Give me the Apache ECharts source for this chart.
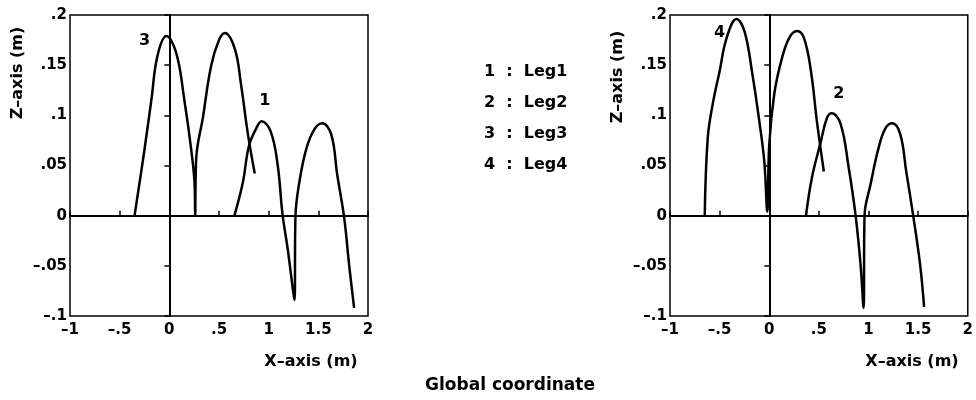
<!DOCTYPE html>
<html>
<head>
<meta charset="utf-8">
<script src="https://cdn.jsdelivr.net/npm/echarts@6/dist/echarts.min.js"></script>
<style>
  html, body { margin: 0; padding: 0; background: #fff; }
  #main { width: 976px; height: 400px; }
</style>
</head>
<body>
<div id="main"></div>
<script>
// tick labels as printed on the figure
var xTickLabels = ['–1', '–.5', '0', '.5', '1', '1.5', '2'];
var zTickLabels = ['–.1', '–.05', '0', '.05', '.1', '.15', '.2'];

// foot trajectories [x, z] in metres
var leg1 = [
  [0.655, 0], [0.74, 0.033], [0.80, 0.069], [0.87, 0.086], [0.93, 0.094],
  [1.02, 0.084], [1.09, 0.051], [1.14, 0.001], [1.19, -0.032], [1.26, -0.084],
  [1.27, 0], [1.31, 0.034], [1.38, 0.067], [1.46, 0.086], [1.54, 0.092],
  [1.63, 0.081], [1.69, 0.041], [1.76, -0.002], [1.81, -0.049], [1.86, -0.092]
];
var leg2 = [
  [0.37, 0], [0.43, 0.038], [0.52, 0.074], [0.58, 0.097], [0.63, 0.102],
  [0.72, 0.091], [0.80, 0.048], [0.87, 0], [0.92, -0.049], [0.95, -0.092],
  [0.96, 0], [1.02, 0.031], [1.10, 0.067], [1.17, 0.087], [1.24, 0.092],
  [1.32, 0.081], [1.38, 0.044], [1.45, 0], [1.52, -0.049], [1.56, -0.091]
];
var leg3 = [
  [-0.35, 0], [-0.25, 0.066], [-0.18, 0.116], [-0.12, 0.159], [-0.03, 0.179],
  [0.07, 0.162], [0.15, 0.116], [0.22, 0.066], [0.255, 0.03], [0.26, 0],
  [0.27, 0.056], [0.34, 0.099], [0.42, 0.149], [0.50, 0.175], [0.56, 0.182],
  [0.66, 0.166], [0.72, 0.132], [0.79, 0.082], [0.86, 0.042]
];
var leg4 = [
  [-0.65, 0], [-0.62, 0.077], [-0.57, 0.111], [-0.5, 0.144], [-0.43, 0.177],
  [-0.33, 0.196], [-0.25, 0.184], [-0.17, 0.141], [-0.10, 0.094], [-0.05, 0.054], [-0.02, 0.004],
  [0.0, 0.071], [0.05, 0.121], [0.12, 0.154], [0.20, 0.177], [0.28, 0.184],
  [0.35, 0.177], [0.42, 0.144], [0.48, 0.094], [0.55, 0.044]
];
var legNames = ['Leg1', 'Leg2', 'Leg3', 'Leg4'];
// where the curve numbers are written, [x, z]
var tagPos = { Leg1: [0.96, 0.114], Leg2: [0.70, 0.121], Leg3: [-0.25, 0.174], Leg4: [-0.5, 0.182] };

var font = 'DejaVu Sans';
var black = '#000';

function xAxisOf(idx) {
  return {
    gridIndex: idx, type: 'value', min: -1, max: 2, interval: 0.5,
    axisLine: { show: true, lineStyle: { color: black, width: 2 } },
    axisTick: { show: true, inside: true, length: 5, lineStyle: { color: black, width: 1.5 } },
    axisLabel: { color: black, fontFamily: font, fontWeight: 'bold', fontSize: 15, margin: 7,
      formatter: function (v, i) { return xTickLabels[i]; } },
    splitLine: { show: false }
  };
}
function yAxisOf(idx) {
  return {
    gridIndex: idx, type: 'value', min: -0.1, max: 0.2, interval: 0.05,
    axisLine: { show: true, lineStyle: { color: black, width: 2 } },
    axisTick: { show: true, length: 5, lineStyle: { color: black, width: 1.5 } },
    axisLabel: { color: black, fontFamily: font, fontWeight: 'bold', fontSize: 15, margin: 3,
      formatter: function (v, i) { return zTickLabels[i]; } },
    splitLine: { show: false }
  };
}
function legSeries(name, data, idx, withZeroLines) {
  var s = {
    name: name, type: 'line', xAxisIndex: idx, yAxisIndex: idx,
    data: data, smooth: 0.4, showSymbol: false, symbol: 'none',
    lineStyle: { color: black, width: 2.5 }, itemStyle: { color: black },
    markPoint: {
      symbol: 'circle', symbolSize: 0, silent: true,
      label: { show: true, formatter: name.slice(3), color: black, fontFamily: font,
        fontWeight: 'bold', fontSize: 16 },
      data: [{ coord: tagPos[name] }]
    }
  };
  if (withZeroLines) {
    s.markLine = {
      silent: true, symbol: ['none', 'none'], label: { show: false },
      lineStyle: { color: black, width: 1.5, type: 'solid' },
      data: [{ xAxis: 0 }, { yAxis: 0 }]
    };
  }
  return s;
}

var chart = echarts.init(document.getElementById('main'));
chart.setOption({
  backgroundColor: '#fff',
  animation: false,
  legend: {
    data: legNames, orient: 'vertical', left: 474, top: 59, itemGap: 15,
    icon: 'none', itemWidth: 0, itemHeight: 0, selectedMode: false,
    textStyle: { color: black, fontFamily: font, fontWeight: 'bold', fontSize: 16 },
    formatter: function (name) { return name.slice(3) + '  :  ' + name; }
  },
  grid: [
    { left: 70, right: 608, top: 15, bottom: 84, show: true, borderColor: black, borderWidth: 1.5 },
    { left: 670, right: 6, top: 15, bottom: 84, show: true, borderColor: black, borderWidth: 1.5 }
  ],
  xAxis: [xAxisOf(0), xAxisOf(1)],
  yAxis: [yAxisOf(0), yAxisOf(1)],
  series: [
    legSeries('Leg1', leg1, 0, true),
    legSeries('Leg2', leg2, 1, true),
    legSeries('Leg3', leg3, 0, false),
    legSeries('Leg4', leg4, 1, false)
  ],
  graphic: [
    { type: 'text', x: 18, y: 73, rotation: Math.PI / 2,
      style: { text: 'Z–axis (m)', fill: black, font: 'bold 16px "DejaVu Sans"', align: 'center', verticalAlign: 'middle' } },
    { type: 'text', x: 618, y: 77, rotation: Math.PI / 2,
      style: { text: 'Z–axis (m)', fill: black, font: 'bold 16px "DejaVu Sans"', align: 'center', verticalAlign: 'middle' } },
    { type: 'text', x: 311, y: 362,
      style: { text: 'X–axis (m)', fill: black, font: 'bold 16px "DejaVu Sans"', align: 'center', verticalAlign: 'middle' } },
    { type: 'text', x: 912, y: 362,
      style: { text: 'X–axis (m)', fill: black, font: 'bold 16px "DejaVu Sans"', align: 'center', verticalAlign: 'middle' } },
    { type: 'text', x: 510, y: 386,
      style: { text: 'Global coordinate', fill: black, font: 'bold 17px "DejaVu Sans"', align: 'center', verticalAlign: 'middle' } }
  ]
});
</script>
</body>
</html>
